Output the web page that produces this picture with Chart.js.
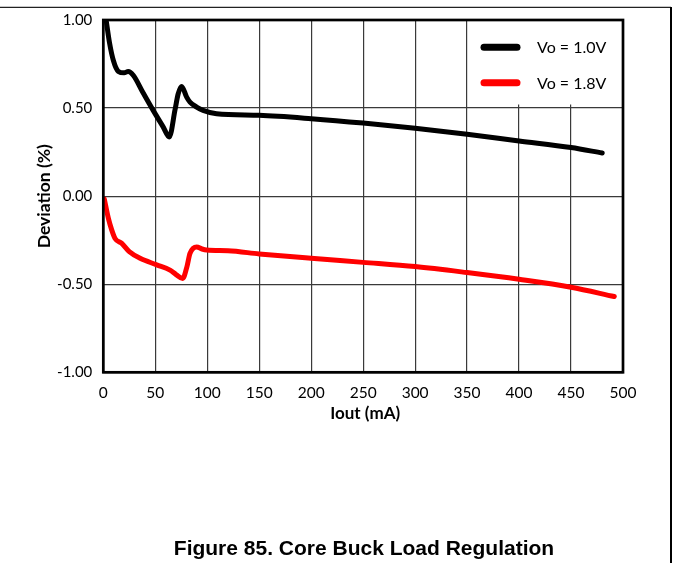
<!DOCTYPE html>
<html>
<head>
<meta charset="utf-8">
<script src="https://cdn.jsdelivr.net/npm/chart.js@4/dist/chart.umd.min.js"></script>
<style>
html,body{margin:0;padding:0;background:#fff;}
canvas{display:block;}
</style>
</head>
<body>
<canvas id="c" width="673" height="563"></canvas>
<script>
// ---- data ----
const seriesNames = ['Vo = 1.0V', 'Vo = 1.8V'];
const seriesColors = ['#000000', '#ff0000'];

const iout10 = [2.7, 6, 9.7, 14.5, 20, 24, 29, 38, 48, 57.7, 63.5, 69, 72, 75.4, 80.2, 83.4, 89.8, 96, 109, 150, 200, 250, 300, 350, 400, 450, 480];
const dev10  = [1.0, 0.87, 0.77, 0.708, 0.70, 0.708, 0.685, 0.59, 0.487, 0.392, 0.336, 0.49, 0.58, 0.623, 0.562, 0.534, 0.506, 0.487, 0.468, 0.459, 0.44, 0.415, 0.385, 0.351, 0.313, 0.276, 0.245];

const iout18 = [1, 4.9, 8, 11.3, 17.8, 25, 35.4, 51.4, 64.2, 70, 76.4, 80.5, 83.4, 89.8, 95, 99.4, 120, 150, 200, 250, 300, 350, 400, 450, 491.6];
const dev18  = [-0.017, -0.126, -0.19, -0.24, -0.268, -0.315, -0.353, -0.39, -0.42, -0.445, -0.467, -0.40, -0.325, -0.288, -0.30, -0.306, -0.31, -0.328, -0.353, -0.376, -0.40, -0.434, -0.472, -0.517, -0.57];

const xTickLabels = ['0','50','100','150','200','250','300','350','400','450','500'];
const yTickLabels = ['-1.00','-0.50','0.00','0.50','1.00'];
const xTitle = 'Iout (mA)';
const yTitle = 'Deviation (%)';
const caption = 'Figure 85. Core Buck Load Regulation';

// ---- build ----
const toPts = (xs, ys) => xs.map((x, i) => ({x: x, y: ys[i]}));

const legendBox = {
  id: 'legendBox',
  beforeDatasetsDraw(chart) {
    const ctx = chart.ctx;
    const a = chart.chartArea;
    ctx.save();
    ctx.fillStyle = '#fff';
    ctx.fillRect(469, a.top, a.right - 469, 104.5 - a.top);
    ctx.restore();
  }
};

const decor = {
  id: 'decor',
  afterDraw(chart) {
    const ctx = chart.ctx;
    const a = chart.chartArea;
    ctx.save();
    // plot box
    ctx.strokeStyle = '#000';
    ctx.lineWidth = 2.7;
    ctx.strokeRect(a.left, a.top, a.right - a.left, a.bottom - a.top);
    // outer frame lines
    ctx.lineWidth = 1.3;
    ctx.strokeStyle = '#222';
    ctx.beginPath();
    ctx.moveTo(0, 7.3); ctx.lineTo(671, 7.3);
    ctx.stroke();
    ctx.lineWidth = 2;
    ctx.strokeStyle = '#000';
    ctx.beginPath();
    ctx.moveTo(671, 7); ctx.lineTo(671, 563);
    ctx.stroke();
    // legend
    const legY = [47.3, 82.7];
    chart.data.datasets.forEach((ds, i) => {
      ctx.strokeStyle = ds.borderColor;
      ctx.lineWidth = 7;
      ctx.lineCap = 'round';
      ctx.beginPath();
      ctx.moveTo(484, legY[i]); ctx.lineTo(517, legY[i]);
      ctx.stroke();
      ctx.fillStyle = '#000';
      ctx.font = '16px Lato';
      ctx.textAlign = 'left';
      ctx.textBaseline = 'middle';
      ctx.fillText(ds.label, 537, legY[i] + 1);
    });
    // x title
    ctx.fillStyle = '#000';
    ctx.font = 'bold 17px Lato';
    ctx.textAlign = 'center';
    ctx.textBaseline = 'middle';
    ctx.fillText(xTitle, (a.left + a.right) / 2 + 2, 414);
    // caption
    ctx.font = 'bold 21px "Liberation Sans", Arial, sans-serif';
    ctx.fillText(caption, 364, 549);
    ctx.restore();
  }
};

new Chart(document.getElementById('c'), {
  type: 'line',
  data: {
    datasets: [
      { label: seriesNames[0], data: toPts(iout10, dev10), borderColor: seriesColors[0], borderWidth: 5,
        pointRadius: 0, cubicInterpolationMode: 'monotone', fill: false, borderCapStyle: 'round', borderJoinStyle: 'round' },
      { label: seriesNames[1], data: toPts(iout18, dev18), borderColor: seriesColors[1], borderWidth: 5,
        pointRadius: 0, cubicInterpolationMode: 'monotone', fill: false, borderCapStyle: 'round', borderJoinStyle: 'round' }
    ]
  },
  options: {
    responsive: false,
    animation: false,
    devicePixelRatio: 1,
    layout: { padding: { left: 0, right: 50, top: 19, bottom: 0 } },
    plugins: { legend: { display: false }, tooltip: { enabled: false } },
    scales: {
      x: {
        type: 'linear', min: 0, max: 500,
        afterFit: s => { s.height = 563 - 372.3; },
        afterBuildTicks: s => { s.ticks = xTickLabels.map(t => ({ value: Number(t) })); },
        ticks: { stepSize: 50, padding: 11, color: '#000', font: { family: 'Lato', size: 15.5 }, maxRotation: 0,
                 callback: (v, i) => xTickLabels[i] },
        grid: { color: '#3a3a3a', lineWidth: 1.2, drawTicks: false },
        border: { display: false }
      },
      y: {
        type: 'linear', min: -1, max: 1,
        afterFit: s => { s.width = 103.3; },
        afterBuildTicks: s => { s.ticks = yTickLabels.map(t => ({ value: Number(t) })); },
        ticks: { stepSize: 0.5, padding: 11, color: '#000', font: { family: 'Lato', size: 15 },
                 callback: (v, i) => yTickLabels[i] },
        grid: { color: '#3a3a3a', lineWidth: 1.2, drawTicks: false },
        border: { display: false },
        title: { display: true, text: yTitle, color: '#000', font: { family: 'Lato', size: 17.5, weight: 'bold', lineHeight: 1.2 },
                 padding: { top: 34, bottom: 0 } }
      }
    }
  },
  plugins: [legendBox, decor]
});
</script>
</body>
</html>
